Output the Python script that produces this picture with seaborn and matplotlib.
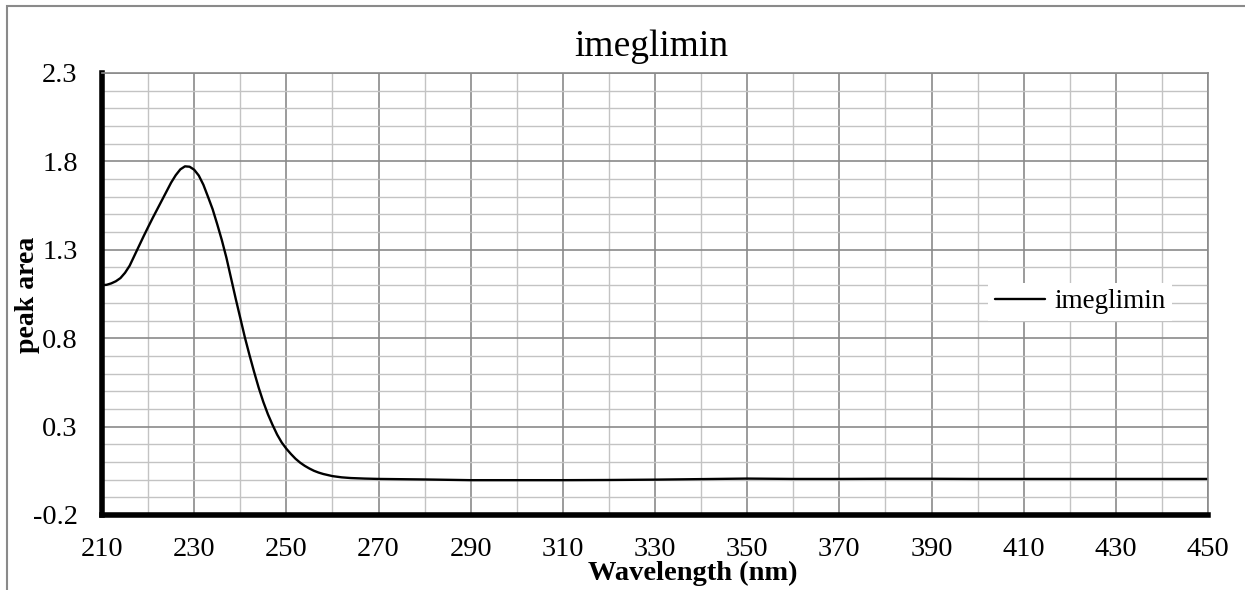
import numpy as np
import pandas as pd
import matplotlib
matplotlib.use("Agg")
import matplotlib.pyplot as plt
from matplotlib.ticker import MultipleLocator
from matplotlib.patches import Rectangle
import seaborn as sns

# ---- data ----
wavelength = [210, 211, 212, 213, 214, 215, 216, 217, 218, 219, 220, 221, 222, 223,
              224, 225, 226, 227, 228, 229, 230, 231, 232, 233, 234, 235, 236, 237,
              238, 239, 240, 241, 242, 243, 244, 245, 246, 247, 248, 249, 250, 251,
              252, 253, 254, 255, 256, 257, 258, 259, 260, 262, 264, 267, 270, 280,
              290, 300, 310, 320, 330, 340, 350, 360, 370, 380, 390, 400, 410, 420,
              430, 440, 450]
absorbance = [1.100, 1.102, 1.110, 1.122, 1.140, 1.170, 1.210, 1.265, 1.320, 1.375,
              1.428, 1.480, 1.530, 1.580, 1.630, 1.680, 1.722, 1.755, 1.772, 1.770,
              1.753, 1.720, 1.668, 1.600, 1.530, 1.445, 1.355, 1.255, 1.140, 1.025,
              0.915, 0.805, 0.705, 0.610, 0.520, 0.440, 0.370, 0.310, 0.255, 0.210,
              0.175, 0.145, 0.118, 0.096, 0.078, 0.063, 0.050, 0.040, 0.032, 0.026,
              0.020, 0.013, 0.009, 0.006, 0.004, 0.001, -0.003, -0.003, -0.003,
              -0.002, 0.000, 0.003, 0.006, 0.004, 0.004, 0.005, 0.005, 0.004, 0.004,
              0.004, 0.004, 0.004, 0.004]
series_name = "imeglimin"
x_ticks = [210, 230, 250, 270, 290, 310, 330, 350, 370, 390, 410, 430, 450]
x_tick_labels = [str(v) for v in x_ticks]
y_ticks = [-0.2, 0.3, 0.8, 1.3, 1.8, 2.3]
y_tick_labels = ["-0.2", "0.3", "0.8", "1.3", "1.8", "2.3"]
title = "imeglimin"
x_label = "Wavelength (nm)"
y_label = "peak area"

df = pd.DataFrame({"wavelength": wavelength, "absorbance": absorbance})

sns.set_theme(style="white")
plt.rcParams["font.family"] = ["Liberation Serif", "DejaVu Serif"]

W, H = 1245, 590
fig = plt.figure(figsize=(W / 100, H / 100), dpi=100)
fig.patch.set_facecolor("white")

def fx(px):
    return px / W

def fy(py):
    return 1 - py / H

ax = fig.add_axes([fx(102), fy(515), fx(1208) - fx(102), fy(73) - fy(515)])

sns.lineplot(data=df, x="wavelength", y="absorbance", ax=ax, color="black",
             linewidth=1.7, label=series_name, sort=True,
             solid_joinstyle="round", solid_capstyle="round")

ax.set_xlim(210, 450)
ax.set_ylim(-0.2, 2.3)
ax.set_xticks(x_ticks)
ax.set_xticklabels(x_tick_labels)
ax.set_yticks(y_ticks)
ax.set_yticklabels(y_tick_labels)
ax.xaxis.set_minor_locator(MultipleLocator(10))
ax.yaxis.set_minor_locator(MultipleLocator(0.1))

ax.set_axisbelow(True)
ax.grid(which="major", color="#8a8a8a", linewidth=1.2)
ax.grid(which="minor", color="#c3c3c3", linewidth=1.0)

for s in ["top", "right"]:
    ax.spines[s].set_color("#8a8a8a")
    ax.spines[s].set_linewidth(1.2)
for s in ["left", "bottom"]:
    ax.spines[s].set_color("black")
    ax.spines[s].set_linewidth(4)

ax.tick_params(axis="both", which="major", direction="out", length=5.5, width=3.5,
               color="black", labelsize=20.5, labelcolor="black")
ax.tick_params(axis="x", which="major", pad=10)
ax.tick_params(axis="y", which="major", pad=12)
ax.tick_params(which="minor", length=0)
ax.set_xlabel("")
ax.set_ylabel("")

leg = ax.legend(loc="center", bbox_to_anchor=((1080 - 102) / 1106, (515 - 302) / 442),
                frameon=True, fancybox=False, framealpha=1, facecolor="white",
                edgecolor="none", fontsize=19.5, handlelength=1.85, handletextpad=0.35,
                borderpad=0.25, borderaxespad=0)
for t in leg.get_texts():
    t.set_color("black")

fig.text(fx(651), fy(47), title, ha="center", va="center", fontsize=27, color="black")
fig.text(fx(693), fy(573), x_label, ha="center", va="center", fontsize=20.5,
         fontweight="bold", color="black")
fig.text(fx(28), fy(295), y_label, ha="center", va="center", rotation=90,
         fontsize=20, fontweight="bold", color="black")

# outer chart border (partly cut off by the image edge)
fig.patches.append(Rectangle((fx(7), fy(700)), fx(1400), fy(6) - fy(700),
                             transform=fig.transFigure, fill=False,
                             edgecolor="#8a8a8a", linewidth=1.5, clip_on=False))

fig.savefig("out.png", dpi=100, facecolor="white")
